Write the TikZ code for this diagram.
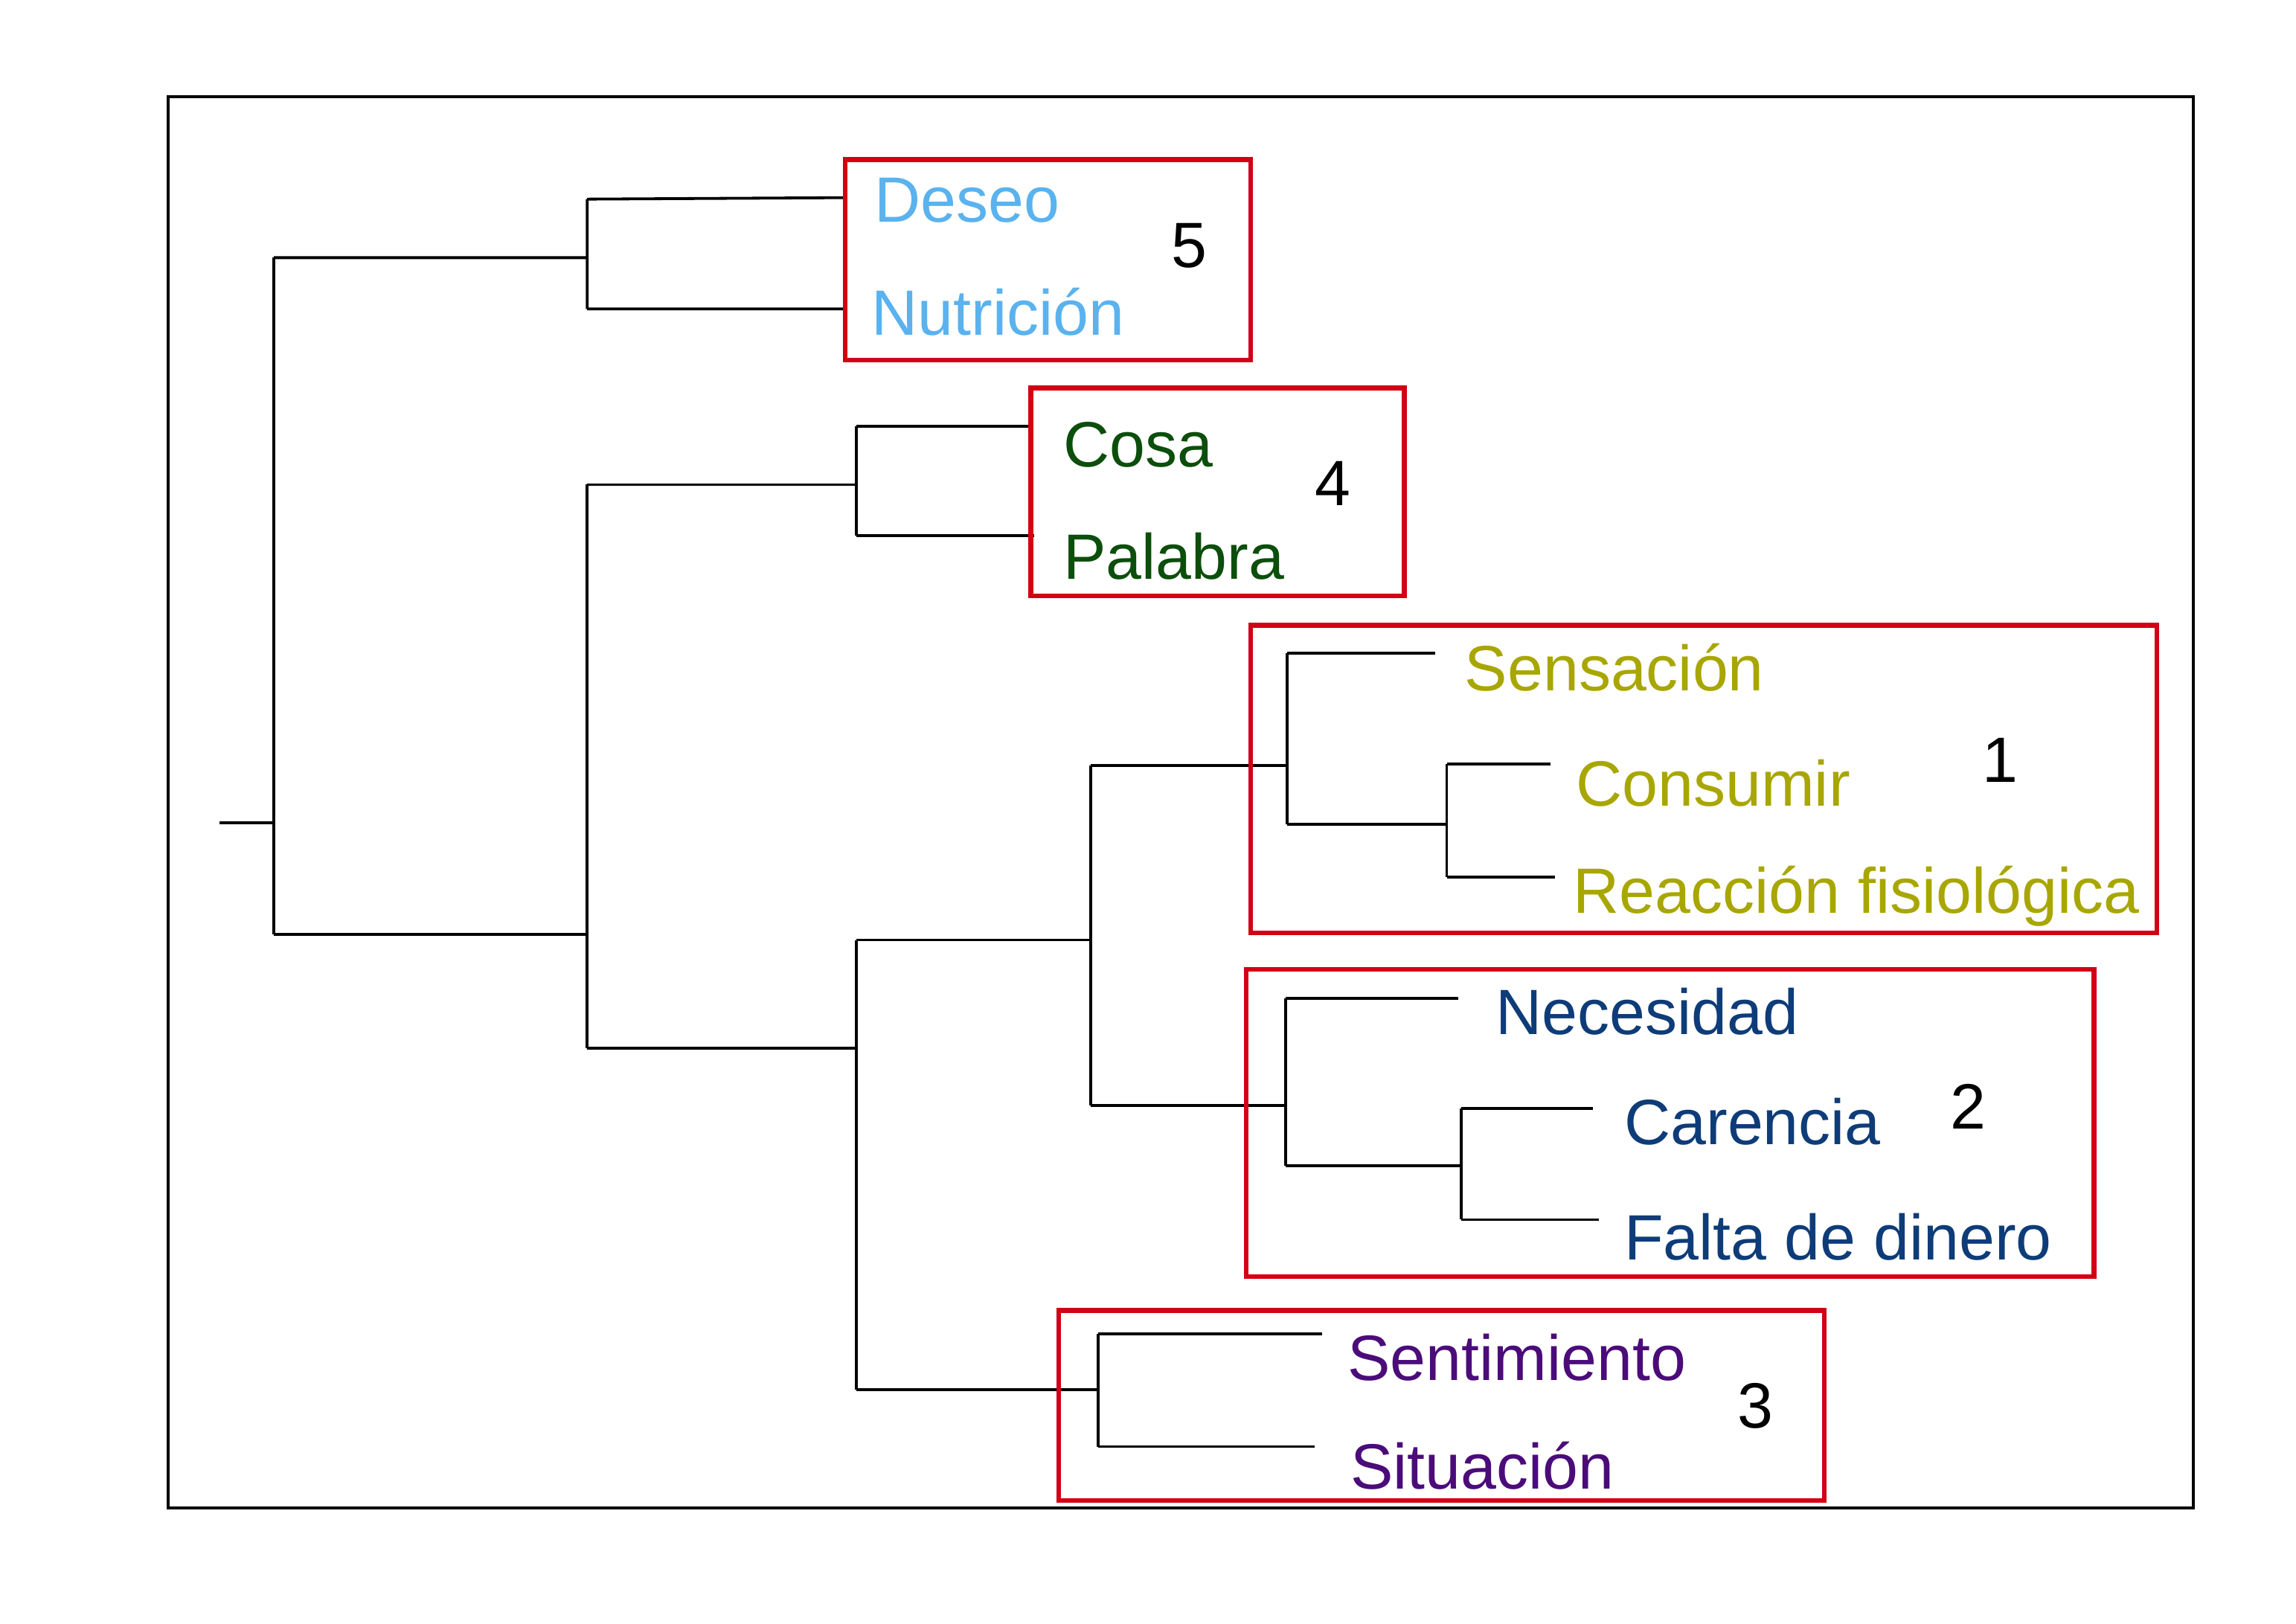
\documentclass[tikz,border=0pt]{standalone}
\usepackage{fontspec}
\setmainfont{Liberation Sans}
\definecolor{cA}{RGB}{90,178,238}
\definecolor{cB}{RGB}{12,78,12}
\definecolor{cC}{RGB}{168,166,0}
\definecolor{cD}{RGB}{14,60,120}
\definecolor{cE}{RGB}{75,12,122}
\definecolor{cR}{RGB}{210,0,20}
\begin{document}
\begin{tikzpicture}[x=0.02cm,y=-0.02cm,
 br/.style={line width=1.1pt,black},
 box/.style={draw=cR,line width=1.8pt},
 lab/.style={anchor=west,inner sep=0pt,font=\fontsize{24.9}{28}\selectfont},
 num/.style={inner sep=0pt,font=\fontsize{24.9}{28}\selectfont}]
\useasboundingbox (0,0) rectangle (1568,1109);
\draw[line width=1.1pt] (115,66) rectangle (1498,1030);
\draw[br] (150,562)--(187,562) (187,176)--(187,638);
\draw[br] (187,176)--(401,176) (401,136)--(401,211) (401,136)--(576,135) (401,211)--(576,211);
\draw[br] (187,638)--(401,638) (401,331)--(401,716);
\draw[br] (401,331)--(585,331) (585,291)--(585,366) (585,291)--(703,291) (585,366)--(706,366);
\draw[br] (401,716)--(585,716) (585,642)--(585,949);
\draw[br] (585,642)--(745,642) (745,523)--(745,755);
\draw[br] (745,523)--(879,523) (879,446)--(879,563) (879,446)--(980,446) (879,563)--(988,563) (988,522)--(988,599) (988,522)--(1059,522) (988,599)--(1062,599);
\draw[br] (745,755)--(878,755) (878,682)--(878,796) (878,682)--(996,682) (878,796)--(998,796) (998,757)--(998,833) (998,757)--(1088,757) (998,833)--(1092,833);
\draw[br] (585,949)--(750,949) (750,911)--(750,988) (750,911)--(903,911) (750,988)--(898,988);
\draw[box] (577,109) rectangle (854,246);
\draw[box] (704,265) rectangle (959,407);
\draw[box] (854,427) rectangle (1473,637);
\draw[box] (851,662) rectangle (1430,872);
\draw[box] (723,895) rectangle (1246,1025);
\node[lab,text=cA] (deseo) at (597,137) {Deseo};
\node[lab,text=cA] (nutr) at (595,213) {Nutrición};
\node[lab,text=cB] (cosa) at (726,304) {Cosa};
\node[lab,text=cB] (pal) at (726,380) {Palabra};
\node[lab,text=cC] (sens) at (1000,456) {Sensación};
\node[lab,text=cC] (cons) at (1076,535) {Consumir};
\node[lab,text=cC] (reac) at (1074,612) {Reacción fisiológica};
\node[lab,text=cD] (nec) at (1021,691) {Necesidad};
\node[lab,text=cD] (car) at (1109,766) {Carencia};
\node[lab,text=cD] (falta) at (1109,845) {Falta de dinero};
\node[lab,text=cE] (sent) at (920,927) {Sentimiento};
\node[lab,text=cE] (sit) at (922,1001) {Situación};
\node[num] (n5) at (812,168) {5};
\node[num] (n4) at (910,330) {4};
\node[num] (n1) at (1366,519) {1};
\node[num] (n2) at (1344,756) {2};
\node[num] (n3) at (1199,960) {3};
\end{tikzpicture}
\end{document}
